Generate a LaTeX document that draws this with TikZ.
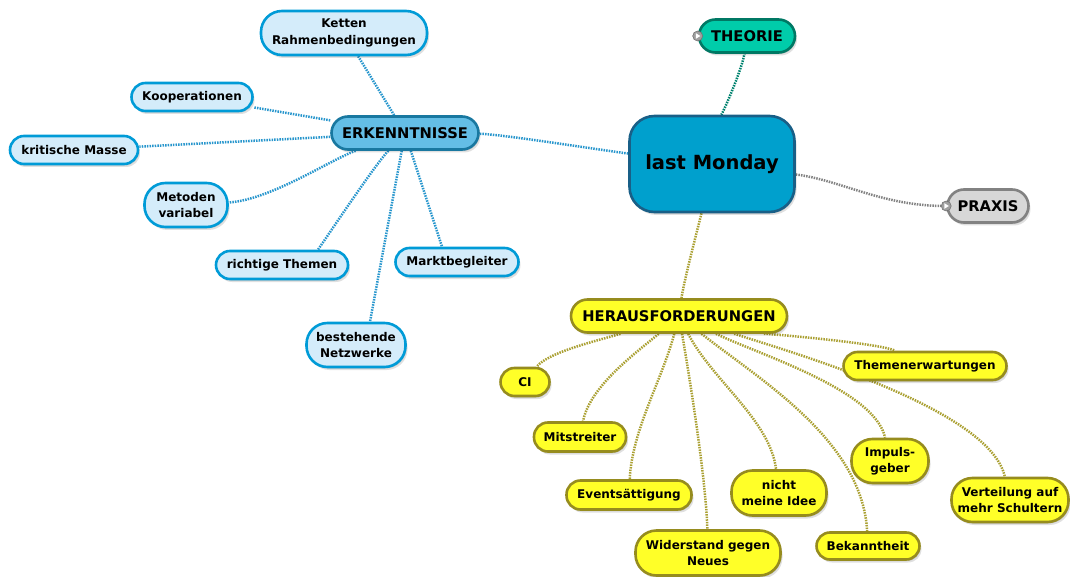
\documentclass[tikz,border=0pt]{standalone}
\usepackage{fontspec}
\setmainfont{DejaVu Sans}
\usetikzlibrary{shadows,backgrounds,calc}
\definecolor{rootfill}{RGB}{0,160,205}
\definecolor{rootline}{RGB}{25,95,135}
\definecolor{theofill}{RGB}{0,204,170}
\definecolor{theoline}{RGB}{0,120,100}
\definecolor{prxfill}{RGB}{215,215,215}
\definecolor{prxline}{RGB}{130,130,130}
\definecolor{erkfill}{RGB}{100,190,230}
\definecolor{erkline}{RGB}{25,120,160}
\definecolor{bluefill}{RGB}{212,236,250}
\definecolor{blueline}{RGB}{0,155,215}
\definecolor{yelfill}{RGB}{255,255,40}
\definecolor{yelline}{RGB}{150,140,30}
\definecolor{cblue}{RGB}{40,150,205}
\definecolor{cteal}{RGB}{0,130,110}
\definecolor{cgrey}{RGB}{130,130,130}
\definecolor{colive}{RGB}{170,160,50}
\begin{document}
\begin{tikzpicture}[x=1pt,y=-1pt,
  base/.style={draw, line width=2.6pt, align=center, inner sep=2pt,
    drop shadow={shadow xshift=2pt, shadow yshift=-3pt, opacity=.12, fill=black},
    drop shadow={shadow xshift=1pt, shadow yshift=-1.5pt, opacity=.12, fill=black}},
  small/.style={font=\fontsize{12}{16.5}\selectfont\bfseries},
  mid/.style={font=\fontsize{14.7}{17}\selectfont\bfseries},
  leafb/.style={base, small, fill=bluefill, draw=blueline, rounded corners=14pt},
  leafy/.style={base, small, fill=yelfill, draw=yelline, rounded corners=14pt},
  twoline/.style={rounded corners=21pt},
  conn/.style={line width=2.5pt, dash pattern=on 1.5pt off 1.1pt},
  conb/.style={conn, draw=cblue},
  cony/.style={conn, draw=colive},
  knob/.style={circle, fill=gray!75, draw=gray!90!black, line width=0.6pt, minimum size=10pt, inner sep=0pt}
]
\useasboundingbox (0,0) rectangle (1070,577);

% central
\node[base, fill=rootfill, draw=rootline, rounded corners=25pt, minimum width=165pt, minimum height=96pt,
  font=\fontsize{19.5}{22}\selectfont\bfseries] (root) at (712,164) {last Monday};

% level 1
\node[base, mid, fill=theofill, draw=theoline, rounded corners=16.5pt, minimum width=96pt, minimum height=33pt] (theo) at (747,36) {THEORIE};
\node[base, mid, fill=prxfill, draw=prxline, rounded corners=16.5pt, minimum width=81pt, minimum height=33pt] (prx) at (988,206) {PRAXIS};
\node[base, mid, fill=erkfill, draw=erkline, rounded corners=16.5pt, minimum width=147pt, minimum height=33pt] (erk) at (405,133) {ERKENNTNISSE};
\node[base, mid, fill=yelfill, draw=yelline, rounded corners=16.5pt, minimum width=216pt, minimum height=33pt] (her) at (679,316) {HERAUSFORDERUNGEN};

\node[knob] (tk) at (theo.west) {};
\node[knob] (pk) at (prx.west) {};
\fill[white] ($(tk)+(-1.8,-2.8)$) -- ($(tk)+(2.6,0)$) -- ($(tk)+(-1.8,2.8)$) -- cycle;
\fill[white] ($(pk)+(-1.8,-2.8)$) -- ($(pk)+(2.6,0)$) -- ($(pk)+(-1.8,2.8)$) -- cycle;

% ERKENNTNISSE children
\node[leafb, twoline, minimum width=166pt, minimum height=44pt] (ket) at (344,33) {Ketten\\Rahmenbedingungen};
\node[leafb, minimum width=121pt, minimum height=28pt] (koop) at (192,97) {Kooperationen};
\node[leafb, minimum width=128pt, minimum height=28pt] (krit) at (74,150) {kritische Masse};
\node[leafb, twoline, minimum width=83pt, minimum height=44pt] (met) at (186,205) {Metoden\\variabel};
\node[leafb, minimum width=132pt, minimum height=28pt] (rt) at (282,265) {richtige Themen};
\node[leafb, minimum width=123pt, minimum height=28pt] (mb) at (457,262) {Marktbegleiter};
\node[leafb, twoline, minimum width=99pt, minimum height=44pt] (bn) at (356,345) {bestehende\\Netzwerke};

% HERAUSFORDERUNGEN children
\node[leafy, minimum width=49pt, minimum height=28pt] (ci) at (525,382) {CI};
\node[leafy, minimum width=163pt, minimum height=28pt] (thm) at (925,366) {Themenerwartungen};
\node[leafy, minimum width=92pt, minimum height=29pt] (mit) at (580,437) {Mitstreiter};
\node[leafy, minimum width=125pt, minimum height=29pt] (evt) at (629,495) {Eventsättigung};
\node[leafy, twoline, minimum width=145pt, minimum height=45pt] (wid) at (708,553) {Widerstand gegen\\Neues};
\node[leafy, twoline, minimum width=95pt, minimum height=45pt] (nmi) at (779,493) {nicht\\meine Idee};
\node[leafy, twoline, minimum width=77pt, minimum height=44pt] (imp) at (890,461) {Impuls-\\geber};
\node[leafy, minimum width=103pt, minimum height=27pt, rounded corners=13.5pt] (bek) at (868,546) {Bekanntheit};
\node[leafy, twoline, minimum width=117pt, minimum height=44pt] (ver) at (1010,500) {Verteilung auf\\mehr Schultern};

\begin{pgfonlayer}{background}
% root connectors
\draw[conb] (root) .. controls (600,150) and (500,134) .. (erk);
\draw[conn, draw=cteal] (root) .. controls (720,120) and (742,70) .. (theo);
\draw[conn, draw=cgrey] (root) .. controls (840,180) and (880,205) .. (pk);
\draw[cony] (root) .. controls (700,220) and (684,280) .. (her);
% ERK children
\draw[conb] (erk) -- (ket);
\draw[conb] (erk) -- (koop);
\draw[conb] (erk) -- (krit);
\draw[conb] (erk) .. controls (330,160) and (270,200) .. (met);
\draw[conb] (erk) .. controls (375,165) and (335,225) .. ([xshift=36pt]rt.north);
\draw[conb] (erk) -- ([xshift=14pt]bn.north);
\draw[conb] (erk) -- ([xshift=-15pt]mb.north);
% HER children
\draw[cony] (her) .. controls (600,340) and (548,352) .. (ci);
\draw[cony] (her) .. controls (640,350) and (590,385) .. (mit);
\draw[cony] (her) .. controls (662,380) and (632,430) .. (evt);
\draw[cony] (her) .. controls (690,380) and (706,480) .. (wid);
\draw[cony] (her) .. controls (712,380) and (770,420) .. (nmi);
\draw[cony] (her) .. controls (760,380) and (862,440) .. (bek);
\draw[cony] (her) .. controls (760,355) and (875,390) .. (imp);
\draw[cony] (her) .. controls (800,355) and (990,410) .. (ver);
\draw[cony] (her) .. controls (760,333) and (880,343) .. (thm);
\end{pgfonlayer}
\end{tikzpicture}
\end{document}
